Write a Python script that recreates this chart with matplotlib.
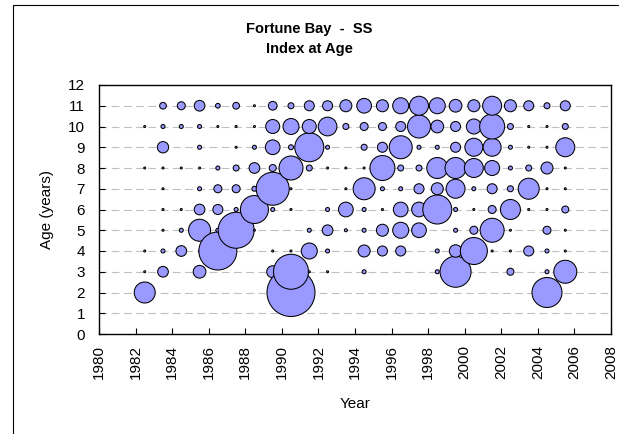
import matplotlib
matplotlib.use('Agg')
import matplotlib.pyplot as plt
from matplotlib.patches import Rectangle

plt.rcParams['font.family'] = ['Liberation Sans', 'DejaVu Sans']

# survey years (plotted mid-year)
years = [1982.5, 1983.5, 1984.5, 1985.5, 1986.5, 1987.5, 1988.5, 1989.5,
         1990.5, 1991.5, 1992.5, 1993.5, 1994.5, 1995.5, 1996.5, 1997.5,
         1998.5, 1999.5, 2000.5, 2001.5, 2002.5, 2003.5, 2004.5, 2005.5]

# index at age, one list per age, one value per year (0 = no bubble)
age2 = [4.41, 0, 0, 0, 0, 0, 0, 0, 23.04, 0, 0, 0,
        0, 0, 0, 0, 0, 0, 0, 0, 0, 0, 9.0, 0]
age3 = [0.04, 1.14, 0, 1.61, 0, 0, 0, 1.44, 12.25, 0.04, 0.04, 0,
        0.16, 0, 0, 0, 0.16, 9.61, 0, 0, 0.49, 0, 0.16, 5.29]
age4 = [0.04, 0.16, 1.14, 0.04, 14.44, 0, 0, 0.04, 0.04, 2.56, 0.16, 0,
        1.44, 1.0, 1.0, 0, 0.16, 1.56, 7.29, 0.04, 0.04, 1.0, 0.16, 0.04]
age5 = [0, 0.04, 0.16, 4.84, 0.16, 12.96, 0.04, 0, 0, 0.16, 1.14, 0.09,
        0.16, 1.44, 2.56, 2.16, 0, 0.16, 0.64, 5.76, 0.04, 0, 0.64, 0.04]
age6 = [0, 0.04, 0.04, 1.14, 1.0, 0.16, 7.84, 0.16, 0.04, 0, 0.16, 2.16,
        0.16, 0.04, 2.16, 2.16, 8.41, 0.16, 0.04, 0.64, 4.0, 0.04, 0.04, 0.49]
age7 = [0, 0.04, 0, 0.16, 0.64, 0.64, 0.25, 10.89, 0.04, 0, 0, 0.04,
        4.84, 0.16, 0.16, 1.0, 1.44, 3.61, 0.16, 1.0, 0.36, 4.41, 0.04, 0.04]
age8 = [0.04, 0.04, 0.04, 0.04, 0.16, 0.36, 1.14, 0.49, 5.76, 0.36, 0.04, 0.04,
        0.04, 6.25, 0.36, 0.36, 4.41, 4.41, 3.61, 2.25, 0.16, 0.36, 1.44, 0.04]
age9 = [0, 1.28, 0, 0.16, 0, 0.04, 0.16, 2.16, 0.25, 8.41, 0.16, 0,
        0.36, 1.0, 5.29, 0.16, 0.16, 1.0, 3.24, 3.24, 0.16, 0.04, 0.04, 3.61]
age10 = [0.04, 0.16, 0.16, 0.16, 0.04, 0.04, 0.04, 1.96, 2.56, 1.96, 3.5, 0.36,
         0.64, 0.64, 1.0, 5.29, 1.61, 1.0, 2.25, 6.25, 0.36, 0.04, 0.04, 0.36]
age11 = [0, 0.45, 0.64, 1.14, 0.22, 0.45, 0.04, 0.76, 0.36, 1.0, 1.0, 1.44,
         2.16, 1.44, 2.56, 3.61, 2.56, 1.61, 1.44, 3.61, 1.44, 1.0, 0.36, 1.0]

ages = [2, 3, 4, 5, 6, 7, 8, 9, 10, 11]
rows = [age2, age3, age4, age5, age6, age7, age8, age9, age10, age11]

# flatten in year order, then age, so later years sit on top
xs, ys, vals = [], [], []
for i, yr in enumerate(years):
    for a, row in zip(ages, rows):
        if row[i] > 0:
            xs.append(yr)
            ys.append(a)
            vals.append(row[i])

fig = plt.figure(figsize=(6.19, 4.34), dpi=100)
ax = fig.add_axes([99 / 619, 1 - 334 / 434, 512 / 619, 249 / 434])

for g in range(1, 12):
    ax.axhline(g, color='#c0c0c0', lw=0.8, dashes=(7, 4), zorder=0)

ax.scatter(xs, ys, s=[51.84 * v for v in vals], c='#9999ff',
           edgecolors='black', linewidths=0.75, clip_on=False, zorder=3)

ax.set_xlim(1980, 2008)
ax.set_ylim(0, 12)
ax.set_xticks(range(1980, 2009, 2))
ax.set_yticks(range(0, 13))
ax.tick_params(axis='x', direction='in', length=4, labelsize=11,
               labelrotation=90, pad=8)
ax.tick_params(axis='y', direction='in', length=4, labelsize=11, pad=10)
for sp in ax.spines.values():
    sp.set_linewidth(1.0)

ax.set_xlabel('Year', fontsize=11)
ax.set_ylabel('Age (years)', fontsize=11)
ax.xaxis.set_label_coords(0.5, -0.253)
ax.yaxis.set_label_coords(-0.087, 0.5)

fig.text(0.5, 1 - 29 / 434, 'Fortune Bay  -  SS', ha='center', va='center',
         fontsize=10.5, fontweight='bold')
fig.text(0.5, 1 - 49 / 434, 'Index at Age', ha='center', va='center',
         fontsize=10.5, fontweight='bold')

# chart border (runs off the right and bottom edges)
fig.patches.append(Rectangle((13 / 619, -0.05), 0.99, 1.05 - 5 / 434,
                             transform=fig.transFigure, fill=False,
                             edgecolor='black', lw=0.8))

fig.savefig('out.png', dpi=100)
